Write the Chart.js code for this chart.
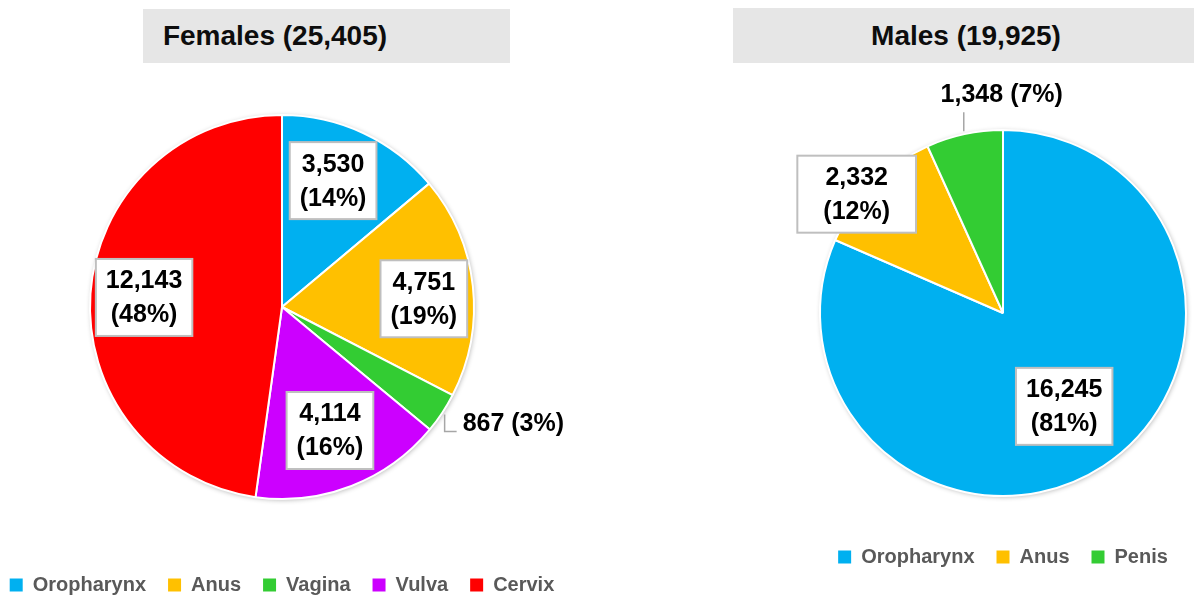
<!DOCTYPE html>
<html lang="en">
<head>
<meta charset="UTF-8">
<title>HPV-associated cancers by sex</title>
<script src="https://cdn.jsdelivr.net/npm/chart.js"></script>
<style>
  body { margin: 0; width: 1194px; height: 597px; overflow: hidden; background: #fff; position: relative;
         font-family: "Liberation Sans", Arial, sans-serif; }
  .head { position: absolute; background: #e6e6e6; }
  .head span { position: absolute; top: 50%; transform: translate(-50%, -50%); font-weight: bold;
               font-size: 28px; color: #0d0d0d; white-space: nowrap; }
  canvas { position: absolute; top: 0; }
</style>
</head>
<body>
<div class="head" style="left:143px; top:9px; width:367px; height:54px;"><span id="femaleTitle" style="left:132px;"></span></div>
<div class="head" style="left:733px; top:8px; width:461px; height:55px;"><span id="maleTitle" style="left:233px;"></span></div>
<canvas id="femaleChart" width="600" height="605" style="left:-18px;"></canvas>
<canvas id="maleChart" width="426" height="577" style="left:790px;"></canvas>

<script>
    // data
    const femaleSites = ['Oropharynx', 'Anus', 'Vagina', 'Vulva', 'Cervix'];
    const femaleCounts = [3530, 4751, 867, 4114, 12143];
    const femalePct = [14, 19, 3, 16, 48];

    const maleSites = ['Oropharynx', 'Anus', 'Penis'];
    const maleCounts = [16245, 2332, 1348];
    const malePct = [81, 12, 7];

    const siteColors = {
        Oropharynx: '#00b0f0',
        Anus: '#ffc000',
        Vagina: '#33cc33',
        Vulva: '#cc00ff',
        Cervix: '#ff0000',
        Penis: '#33cc33'
    };

    const FONT = '"Liberation Sans", Arial, sans-serif';
    const sum = arr => arr.reduce((a, b) => a + b, 0);

    document.getElementById('femaleTitle').textContent = 'Females (' + sum(femaleCounts).toLocaleString('en-US') + ')';
    document.getElementById('maleTitle').textContent = 'Males (' + sum(maleCounts).toLocaleString('en-US') + ')';

    // faint drop shadow under the whole pie
    const pieShadow = {
        id: 'pieShadow',
        beforeDatasetsDraw(chart) {
            const arc = chart.getDatasetMeta(0).data[0];
            const ctx = chart.ctx;
            ctx.save();
            ctx.shadowColor = 'rgba(0,0,0,0.3)';
            ctx.shadowBlur = 5;
            ctx.shadowOffsetX = 1;
            ctx.shadowOffsetY = 1;
            ctx.fillStyle = '#fff';
            ctx.beginPath();
            ctx.arc(arc.x, arc.y, arc.outerRadius, 0, Math.PI * 2);
            ctx.fill();
            ctx.restore();
        }
    };

    // boxed labels inside the slices, or a plain label on a leader line
    const sliceLabels = {
        id: 'sliceLabels',
        afterDatasetsDraw(chart, args, opts) {
            const ctx = chart.ctx;
            const values = chart.data.datasets[0].data;
            const arcs = chart.getDatasetMeta(0).data;
            ctx.save();
            ctx.font = 'bold 25px ' + FONT;
            ctx.textBaseline = 'middle';
            arcs.forEach((arc, i) => {
                const s = opts.spots[i];
                const num = values[i].toLocaleString('en-US');
                const pc = '(' + opts.pct[i] + '%)';
                const mid = (arc.startAngle + arc.endAngle) / 2 + (s.turn || 0) * Math.PI / 180;
                const R = arc.outerRadius;
                if (s.r) {
                    const cx = arc.x + Math.cos(mid) * R * s.r;
                    const cy = arc.y + Math.sin(mid) * R * s.r;
                    const w = Math.max(ctx.measureText(num).width, ctx.measureText(pc).width) + 2 * (s.padX || 10);
                    const h = 77;
                    ctx.fillStyle = '#fff';
                    ctx.fillRect(cx - w / 2, cy - h / 2, w, h);
                    ctx.strokeStyle = '#bfbfbf';
                    ctx.lineWidth = 2;
                    ctx.strokeRect(cx - w / 2, cy - h / 2, w, h);
                    ctx.fillStyle = '#000';
                    ctx.textAlign = 'center';
                    ctx.fillText(num, cx, cy - 16);
                    ctx.fillText(pc, cx, cy + 18);
                } else {
                    let x = arc.x + Math.cos(mid) * (R + 3);
                    let y = arc.y + Math.sin(mid) * (R + 3);
                    ctx.strokeStyle = '#a6a6a6';
                    ctx.lineWidth = 1.5;
                    ctx.beginPath();
                    ctx.moveTo(x, y);
                    s.leader.forEach(([dx, dy]) => { x += dx; y += dy; ctx.lineTo(x, y); });
                    ctx.stroke();
                    ctx.fillStyle = '#000';
                    ctx.textAlign = s.align;
                    ctx.fillText(num + ' ' + pc, x + s.text[0], y + s.text[1]);
                }
            });
            ctx.restore();
        }
    };

    function makePie(id, sites, counts, pct, radius, padTop, spots) {
        return new Chart(document.getElementById(id), {
            type: 'pie',
            data: {
                labels: sites,
                datasets: [{
                    data: counts,
                    backgroundColor: sites.map(s => siteColors[s]),
                    borderColor: '#fff',
                    borderWidth: 2,
                    radius: radius
                }]
            },
            options: {
                responsive: false,
                animation: false,
                layout: { padding: { top: padTop } },
                plugins: {
                    tooltip: { enabled: false },
                    legend: {
                        position: 'bottom',
                        labels: {
                            boxWidth: 13,
                            boxHeight: 13,
                            padding: 22,
                            color: '#595959',
                            font: { family: FONT, size: 20, weight: 'bold' },
                            generateLabels: c => Chart.overrides.pie.plugins.legend.labels.generateLabels(c)
                                .map(l => Object.assign(l, { lineWidth: 0 }))
                        }
                    },
                    sliceLabels: { pct: pct, spots: spots }
                }
            },
            plugins: [pieShadow, sliceLabels]
        });
    }

    makePie('femaleChart', femaleSites, femaleCounts, femalePct, 192, 61, [
        { r: 0.71, turn: -3 },
        { r: 0.74, turn: 3 },
        { leader: [[0, 17], [12, 0]], text: [6, -7], align: 'left' },
        { r: 0.69 },
        { r: 0.72 }
    ]);

    makePie('maleChart', maleSites, maleCounts, malePct, 183, 101, [
        { r: 0.61 },
        { r: 1.03, turn: -5.5, padX: 26 },
        { leader: [[0, -19]], text: [38, -17], align: 'center' }
    ]);
</script>
</body>
</html>
